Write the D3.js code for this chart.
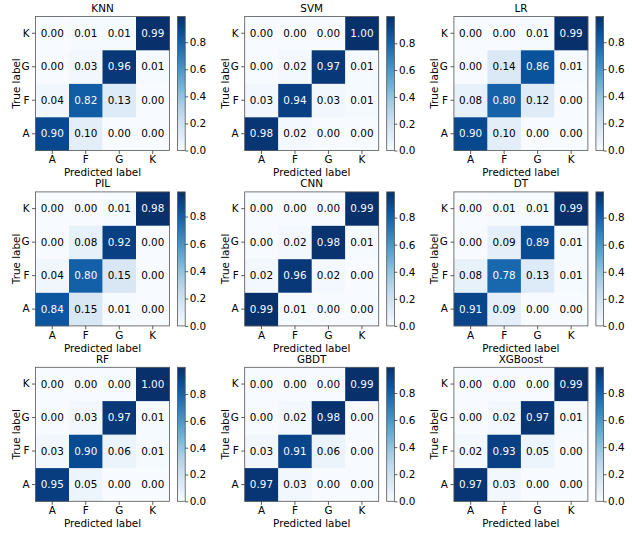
<!DOCTYPE html>
<html>
<head>
<meta charset="utf-8">
<script src="https://cdn.jsdelivr.net/npm/d3@7"></script>
<style>
  body { margin: 0; background: #fff; }
  svg { display: block; }
  text { font-family: "DejaVu Sans", sans-serif; }
</style>
</head>
<body>
<svg id="chart" width="632" height="534"></svg>
<script>
// Labels
const classLabels = ["A", "F", "G", "K"];          // predicted (x) order
const trueOrderTopDown = ["K", "G", "F", "A"];      // true (y) order from top
const colorbarTicks = [0.0, 0.2, 0.4, 0.6, 0.8];
const modelNames = ["KNN", "SVM", "LR", "PIL", "CNN", "DT", "RF", "GBDT", "XGBoost"];

// Confusion matrices: rows = true label A, F, G, K ; cols = predicted A, F, G, K
const KNN  = [[0.90,0.10,0.00,0.00],[0.04,0.82,0.13,0.00],[0.00,0.03,0.96,0.01],[0.00,0.01,0.01,0.99]];
const SVM  = [[0.98,0.02,0.00,0.00],[0.03,0.94,0.03,0.01],[0.00,0.02,0.97,0.01],[0.00,0.00,0.00,1.00]];
const LR   = [[0.90,0.10,0.00,0.00],[0.08,0.80,0.12,0.00],[0.00,0.14,0.86,0.01],[0.00,0.00,0.01,0.99]];
const PIL  = [[0.84,0.15,0.01,0.00],[0.04,0.80,0.15,0.00],[0.00,0.08,0.92,0.00],[0.00,0.00,0.01,0.98]];
const CNN  = [[0.99,0.01,0.00,0.00],[0.02,0.96,0.02,0.00],[0.00,0.02,0.98,0.01],[0.00,0.00,0.00,0.99]];
const DT   = [[0.91,0.09,0.00,0.00],[0.08,0.78,0.13,0.01],[0.00,0.09,0.89,0.01],[0.00,0.01,0.01,0.99]];
const RF   = [[0.95,0.05,0.00,0.00],[0.03,0.90,0.06,0.01],[0.00,0.03,0.97,0.01],[0.00,0.00,0.00,1.00]];
const GBDT = [[0.97,0.03,0.00,0.00],[0.03,0.91,0.06,0.00],[0.00,0.02,0.98,0.00],[0.00,0.00,0.00,0.99]];
const XGB  = [[0.97,0.03,0.00,0.00],[0.02,0.93,0.05,0.00],[0.00,0.02,0.97,0.01],[0.00,0.00,0.00,0.99]];
const matrices = [KNN, SVM, LR, PIL, CNN, DT, RF, GBDT, XGB];

// matplotlib "Blues" anchor colors (linear segmented)
const bluesStops = ["#f7fbff","#deebf7","#c6dbef","#9ecae1","#6baed6","#4292c6","#2171b5","#08519c","#08306b"];
const blues = d3.scaleLinear()
  .domain(bluesStops.map((_, i) => i / (bluesStops.length - 1)))
  .range(bluesStops)
  .interpolate(d3.interpolateRgb)
  .clamp(true);

const svg = d3.select("#chart");
const FS = 10.4;
const size = 134;
const left0 = 35.5, top0 = 16.5, colStep = 209.2, rowStep = 175.4;
const cbGap = 8, cbW = 7.7;

const defs = svg.append("defs");
const grad = defs.append("linearGradient").attr("id", "bluesGrad")
  .attr("x1", "0").attr("y1", "1").attr("x2", "0").attr("y2", "0");
d3.range(0, 1.0001, 0.05).forEach(t => {
  grad.append("stop").attr("offset", t).attr("stop-color", blues(t));
});

matrices.forEach((m, idx) => {
  const c = idx % 3, r = Math.floor(idx / 3);
  const g = svg.append("g")
    .attr("transform", `translate(${left0 + c * colStep},${top0 + r * rowStep})`);

  const x = d3.scaleBand().domain(classLabels).range([0, size]);
  const y = d3.scaleBand().domain(trueOrderTopDown).range([0, size]);

  const flat = m.flat();
  const vmin = d3.min(flat), vmax = d3.max(flat);
  const thresh = (vmax + vmin) / 2;
  const color = v => blues((v - vmin) / (vmax - vmin));

  const cells = [];
  m.forEach((row, i) => row.forEach((v, j) => cells.push({ t: classLabels[i], p: classLabels[j], v })));

  g.selectAll("rect.cell").data(cells).join("rect")
    .attr("class", "cell")
    .attr("x", d => x(d.p)).attr("y", d => y(d.t))
    .attr("width", x.bandwidth() + 0.3).attr("height", y.bandwidth() + 0.3)
    .attr("fill", d => color(d.v));

  g.selectAll("text.val").data(cells).join("text")
    .attr("class", "val")
    .attr("x", d => x(d.p) + x.bandwidth() / 2)
    .attr("y", d => y(d.t) + y.bandwidth() / 2)
    .attr("dy", "0.36em")
    .attr("text-anchor", "middle")
    .attr("font-size", FS)
    .attr("fill", d => d.v < thresh ? "#000" : "#f7fbff")
    .text(d => d.v.toFixed(2));

  // frame
  g.append("rect").attr("x", 0).attr("y", 0).attr("width", size).attr("height", size)
    .attr("fill", "none").attr("stroke", "#555").attr("stroke-width", 0.8);

  // axes
  const xa = g.append("g").attr("transform", `translate(0,${size})`)
    .call(d3.axisBottom(x).tickSize(3.5).tickPadding(2));
  const ya = g.append("g").call(d3.axisLeft(y).tickSize(3.5).tickPadding(2.5));
  [xa, ya].forEach(a => {
    a.select(".domain").remove();
    a.selectAll(".tick line").attr("stroke", "#333").attr("stroke-width", 0.8);
    a.selectAll(".tick text").attr("font-size", FS).attr("fill", "#000")
      .attr("font-family", "DejaVu Sans, sans-serif");
  });

  g.append("text").attr("x", size / 2).attr("y", -4.6)
    .attr("text-anchor", "middle").attr("font-size", FS).text(modelNames[idx]);
  g.append("text").attr("x", size / 2).attr("y", size + 25.8)
    .attr("text-anchor", "middle").attr("font-size", FS).text("Predicted label");
  g.append("text")
    .attr("transform", `translate(${-16},${size / 2}) rotate(-90)`)
    .attr("text-anchor", "middle").attr("font-size", FS).text("True label");

  // colorbar
  const cb = g.append("g").attr("transform", `translate(${size + cbGap},0)`);
  cb.append("rect").attr("width", cbW).attr("height", size).attr("fill", "url(#bluesGrad)");
  cb.append("rect").attr("width", cbW).attr("height", size)
    .attr("fill", "none").attr("stroke", "#555").attr("stroke-width", 0.8);
  const cs = d3.scaleLinear().domain([vmin, vmax]).range([size, 0]);
  const ca = cb.append("g").attr("transform", `translate(${cbW},0)`)
    .call(d3.axisRight(cs).tickValues(colorbarTicks).tickFormat(d3.format(".1f")).tickSize(3).tickPadding(1.5));
  ca.select(".domain").remove();
  ca.selectAll(".tick line").attr("stroke", "#333").attr("stroke-width", 0.8);
  ca.selectAll(".tick text").attr("font-size", FS).attr("fill", "#000")
    .attr("font-family", "DejaVu Sans, sans-serif");
});
</script>
</body>
</html>
